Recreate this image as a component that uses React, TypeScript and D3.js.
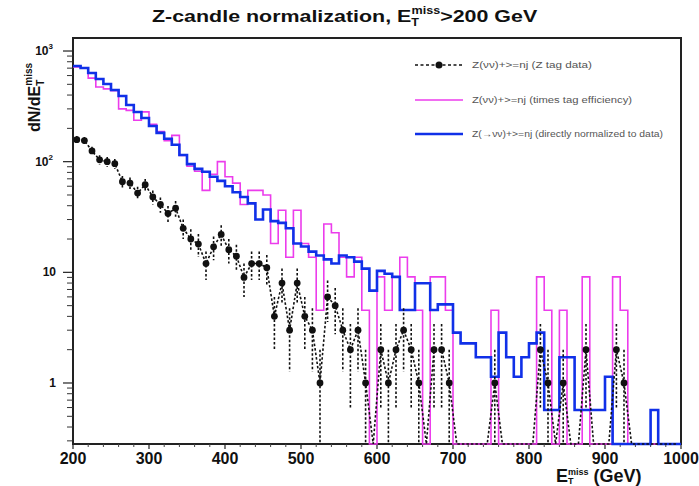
import React from 'react';
import * as d3 from 'd3';

// ---------- DATA (10 GeV bins starting at 200 GeV) ----------
const binStart = 200;
const binWidth = 10;

// Z tag data (raw counts per bin)
const zTagData = [
  158, 155, 125, 104, 100, 96, 66, 64, 52, 62,
  48, 41, 34, 38, 25, 20, 18, 12, 17, 22,
  16, 14, 9, 12, 12, 11, 4, 8, 3, 8,
  4, 3, 1, 6, 5, 3, 2, 3, 1, 0,
  2, 1, 2, 3, 2, 1, 0, 2, 2, 1,
  0, 0, 0, 0, 0, 1, 0, 0, 0, 0,
  0, 2, 1, 0, 1, 0, 0, 2, 0, 0,
  0, 2, 1, 0, 0, 0, 0, 0, 0, 0,
];

// times tag efficiency (magenta)
const timesTagEff = [
  719, 705, 569, 473, 455, 437, 300, 291, 237, 282,
  218, 187, 155, 173, 114, 91, 82, 55, 77, 100,
  73, 64, 41, 55, 55, 50, 18.2, 36.4, 13.7, 36.4,
  18.2, 13.7, 4.55, 27.3, 22.8, 13.7, 9.1, 13.7, 4.55, 0,
  9.1, 4.55, 9.1, 13.7, 9.1, 4.55, 0, 9.1, 9.1, 4.55,
  0, 0, 0, 0, 0, 4.55, 0, 0, 0, 0,
  0, 9.1, 4.55, 0, 4.55, 0, 0, 9.1, 0, 0,
  0, 9.1, 4.55, 0, 0, 0, 0, 0, 0, 0,
];

// directly normalized to data (blue)
const directNorm = [
  732, 702, 633, 559, 504, 444, 392, 325, 281, 248,
  210, 182, 161, 142, 115, 95, 86, 81, 73, 67,
  60, 53, 48, 42, 30, 37, 29, 28, 25, 18.2,
  17.1, 15.4, 14.2, 13.1, 12, 14.2, 13.7, 12.5, 10.8, 6.84,
  10.3, 9.7, 9.1, 4.56, 4.56, 7.98, 7.98, 4.56, 5.13, 5.13,
  2.85, 2.28, 2.28, 1.71, 1.71, 1.14, 2.85, 1.71, 1.14, 1.71,
  2.28, 2.85, 0.57, 0.57, 1.71, 1.71, 0.57, 0.57, 0.57, 0.57,
  1.14, 0, 0, 0, 0, 0, 0.57, 0, 0, 0,
];

const xTickValues = [200, 300, 400, 500, 600, 700, 800, 900, 1000];
const yMajorTicks = [1, 10, 100, 1000];
const yMajorLabels = [['1', ''], ['10', ''], ['10', '2'], ['10', '3']];

const legendLabels = [
  'Z(νν)+>=nj (Z tag data)',
  'Z(νν)+>=nj (times tag efficiency)',
  'Z(→νν)+>=nj (directly normalized to data)',
];
const legendTextWidths = [120, 160, 191];

// ---------- LAYOUT ----------
const W = 699;
const H = 486;
const PL = 73;
const PR = 681;
const PT = 38;
const PB = 444;
const FONT = 'Liberation Sans, Arial, Helvetica, sans-serif';
const MAGENTA = '#ec3cec';
const BLUE = '#1030e8';

export default function App() {
  const x = d3.scaleLinear().domain([200, 1000]).range([PL, PR]);
  const y = d3.scaleLog().domain([0.281, 1311]).range([PB, PT]);
  const yc = (v: number) => (v > 0.281 ? y(v) : PB);

  const histPath = (vals: number[]) => {
    let d = '';
    vals.forEach((v, i) => {
      const x0 = x(binStart + i * binWidth);
      const x1 = x(binStart + (i + 1) * binWidth);
      const yy = yc(v);
      d += i === 0 ? `M${x0},${yy}` : `V${yy}`;
      d += `H${x1}`;
    });
    return d;
  };

  const centers = zTagData.map((_, i) => binStart + (i + 0.5) * binWidth);
  const blackLine = d3
    .line<number>()
    .x((_, i) => x(centers[i]))
    .y((v) => yc(v))(zTagData) as string;

  const xMinor = d3.range(200, 1001, 20).filter((v) => v % 100 !== 0);
  const yMinor: number[] = [];
  for (const dec of [0.1, 1, 10, 100]) {
    for (let k = 2; k <= 9; k++) {
      const v = k * dec;
      if (v >= 0.281 && v <= 1311) yMinor.push(v);
    }
  }

  const legendRows = [65, 100, 134];

  return (
    <svg
      width={W}
      height={H}
      style={{ position: 'absolute', left: 0, top: 0, background: '#fff' }}
      fontFamily={FONT}
    >
      <defs>
        <clipPath id="plotClip">
          <rect x={PL} y={PT} width={PR - PL} height={PB - PT + 2} />
        </clipPath>
      </defs>
      <rect x={0} y={0} width={W} height={H} fill="#fff" />

      {/* Title */}
      <g transform="translate(152,22) scale(1.26,1)">
        <text x={0} y={0} fontSize={17} fontWeight="bold" fill="#111">
          Z-candle normalization, E
          <tspan fontSize={10} dy={4}>T</tspan>
          <tspan fontSize={10} dx={-6} dy={-12}>miss</tspan>
          <tspan dy={8}>&gt;200 GeV</tspan>
        </text>
      </g>

      {/* Frame */}
      <rect x={PL} y={PT} width={PR - PL} height={PB - PT} fill="none" stroke="#222" strokeWidth={2} />

      {/* X ticks */}
      {xTickValues.map((v) => (
        <g key={'xt' + v}>
          <line x1={x(v)} x2={x(v)} y1={PB} y2={PB + 5} stroke="#222" strokeWidth={1.2} />
          <text x={x(v)} y={464} textAnchor="middle" fontSize={16} fontWeight="bold" fill="#111">
            {v}
          </text>
        </g>
      ))}
      {xMinor.map((v) => (
        <line key={'xm' + v} x1={x(v)} x2={x(v)} y1={PB} y2={PB + 3} stroke="#444" strokeWidth={1} />
      ))}

      {/* Y ticks */}
      {yMajorTicks.map((v, i) => (
        <g key={'yt' + v}>
          <line x1={PL - 10} x2={PL} y1={y(v)} y2={y(v)} stroke="#222" strokeWidth={1.2} />
          <text
            x={yMajorLabels[i][1] ? 53 : 56}
            y={y(v) + 4}
            textAnchor="end"
            fontSize={12}
            fontWeight="bold"
            fill="#111"
          >
            {yMajorLabels[i][0]}
            {yMajorLabels[i][1] ? (
              <tspan fontSize={8} dy={-6}>
                {yMajorLabels[i][1]}
              </tspan>
            ) : null}
          </text>
        </g>
      ))}
      {yMinor.map((v) => (
        <line key={'ym' + v} x1={PL - 6} x2={PL} y1={y(v)} y2={y(v)} stroke="#333" strokeWidth={1} />
      ))}

      {/* Axis titles */}
      <text transform="translate(40,132) rotate(-90)" fontSize={16} fontWeight="bold" fill="#111">
        dN/dE
        <tspan fontSize={10} dy={4}>T</tspan>
        <tspan fontSize={10} dx={-6} dy={-12}>miss</tspan>
      </text>
      <text x={556} y={482} fontSize={18} fontWeight="bold" fill="#111">
        E
        <tspan fontSize={9} dy={2}>T</tspan>
        <tspan fontSize={9} dx={-5.5} dy={-9}>miss</tspan>
        <tspan dy={7}> (GeV)</tspan>
      </text>

      {/* Data */}
      <g clipPath="url(#plotClip)">
        <path d={histPath(timesTagEff)} fill="none" stroke={MAGENTA} strokeWidth={1.6} />
        <path d={histPath(directNorm)} fill="none" stroke={BLUE} strokeWidth={2.6} />
        <path d={blackLine} fill="none" stroke="#111" strokeWidth={1.6} strokeDasharray="2.5,2" />
        {zTagData.map((v, i) =>
          v > 0 ? (
            <line
              key={'eb' + i}
              x1={x(centers[i])}
              x2={x(centers[i])}
              y1={yc(v + Math.sqrt(v))}
              y2={yc(v - Math.sqrt(v))}
              stroke="#111"
              strokeWidth={1.6}
              strokeDasharray="2.5,2"
            />
          ) : null
        )}
        {zTagData.map((v, i) =>
          v > 0 ? <circle key={'pt' + i} cx={x(centers[i])} cy={yc(v)} r={3.4} fill="#111" /> : null
        )}
      </g>

      {/* Legend */}
      <g>
        <line x1={415} x2={463} y1={legendRows[0]} y2={legendRows[0]} stroke="#111" strokeWidth={1.6} strokeDasharray="3,2.5" />
        <circle cx={439} cy={legendRows[0]} r={3.5} fill="#111" />
        <line x1={415} x2={463} y1={legendRows[1]} y2={legendRows[1]} stroke={MAGENTA} strokeWidth={1.6} />
        <line x1={415} x2={463} y1={legendRows[2]} y2={legendRows[2]} stroke={BLUE} strokeWidth={2.6} />
        {legendLabels.map((t, i) => (
          <text
            key={'lg' + i}
            x={472}
            y={legendRows[i] + 3}
            fontSize={8.5}
            fill="#555"
            textLength={legendTextWidths[i]}
            lengthAdjust="spacingAndGlyphs"
          >
            {t}
          </text>
        ))}
      </g>
    </svg>
  );
}
